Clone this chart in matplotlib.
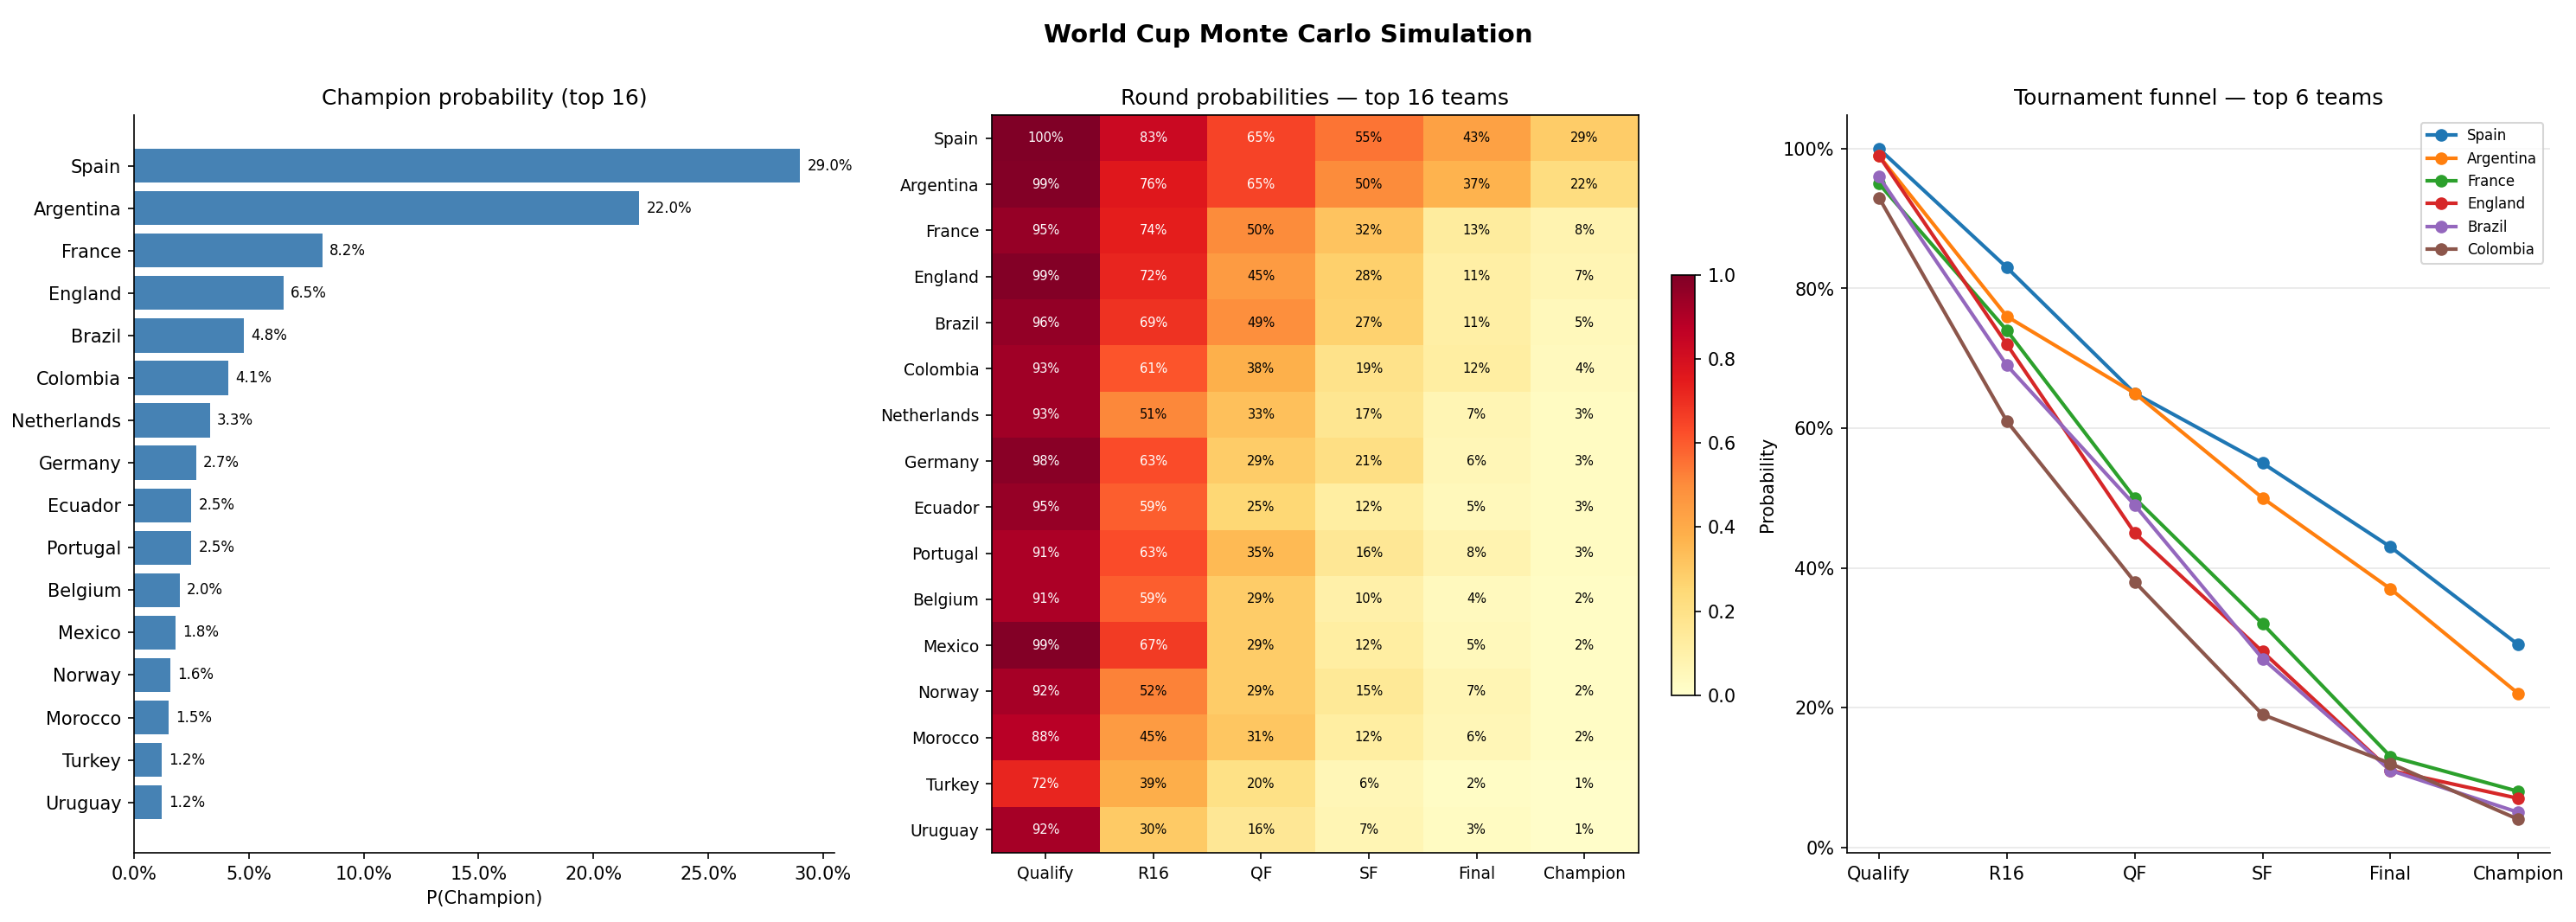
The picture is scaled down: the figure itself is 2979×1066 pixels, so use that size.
import matplotlib
matplotlib.use("Agg")
import matplotlib.pyplot as plt
import numpy as np
from matplotlib.ticker import PercentFormatter

teams = ["Spain","Argentina","France","England","Brazil","Colombia","Netherlands","Germany",
         "Ecuador","Portugal","Belgium","Mexico","Norway","Morocco","Turkey","Uruguay"]
champion = [29.0,22.0,8.2,6.5,4.8,4.1,3.3,2.7,2.5,2.5,2.0,1.8,1.6,1.5,1.2,1.2]
rounds = ["Qualify","R16","QF","SF","Final","Champion"]
qualify = [100,99,95,99,96,93,93,98,95,91,91,99,92,88,72,92]
r16 = [83,76,74,72,69,61,51,63,59,63,59,67,52,45,39,30]
qf = [65,65,50,45,49,38,33,29,25,35,29,29,29,31,20,16]
sf = [55,50,32,28,27,19,17,21,12,16,10,12,15,12,6,7]
final = [43,37,13,11,11,12,7,6,5,8,4,5,7,6,2,3]
champ_round = [29,22,8,7,5,4,3,3,3,3,2,2,2,2,1,1]

M = np.array([qualify, r16, qf, sf, final, champ_round], dtype=float).T / 100

fig = plt.figure(figsize=(19.86, 7.107), dpi=150)
fig.suptitle("World Cup Monte Carlo Simulation", fontsize=14, fontweight="bold", y=0.975)

ax1 = fig.add_axes([0.052, 0.075, 0.272, 0.80])
y = np.arange(len(teams))
ax1.barh(y, champion, color="steelblue")
ax1.set_yticks(y, teams)
ax1.invert_yaxis()
for yi, v in zip(y, champion):
    ax1.text(v + 0.3, yi, f"{v:.1f}%", va="center", fontsize=8)
ax1.xaxis.set_major_formatter(PercentFormatter(decimals=1))
ax1.set_xlim(0, 30.5)
ax1.set_xlabel("P(Champion)")
ax1.set_title("Champion probability (top 16)")
ax1.spines[["top","right"]].set_visible(False)

ax2 = fig.add_axes([0.385, 0.075, 0.251, 0.80])
im = ax2.imshow(M, cmap="YlOrRd", vmin=0, vmax=1, aspect="auto")
ax2.set_xticks(range(len(rounds)), rounds, fontsize=9)
ax2.set_yticks(range(len(teams)), teams, fontsize=9)
for i in range(M.shape[0]):
    for j in range(M.shape[1]):
        v = M[i, j]
        ax2.text(j, i, f"{v*100:.0f}%", ha="center", va="center", fontsize=7,
                 color="white" if v > 0.55 else "black")
ax2.set_title("Round probabilities — top 16 teams")
cax = fig.add_axes([0.649, 0.246, 0.009, 0.456])
fig.colorbar(im, cax=cax)

ax3 = fig.add_axes([0.717, 0.075, 0.273, 0.80])
colors = ["#1f77b4","#ff7f0e","#2ca02c","#d62728","#9467bd","#8c564b"]
for k in range(6):
    ax3.plot(range(len(rounds)), M[k] if k else M[k], marker="o", lw=2, color=colors[k], label=teams[k])
ax3.set_xticks(range(len(rounds)), rounds)
ax3.yaxis.set_major_formatter(PercentFormatter(xmax=1, decimals=0))
ax3.set_ylabel("Probability")
ax3.set_title("Tournament funnel — top 6 teams")
ax3.grid(axis="y", alpha=0.3)
ax3.legend(fontsize=8, loc="upper right")
ax3.spines[["top","right"]].set_visible(False)

fig.savefig("out.png", dpi=150)
